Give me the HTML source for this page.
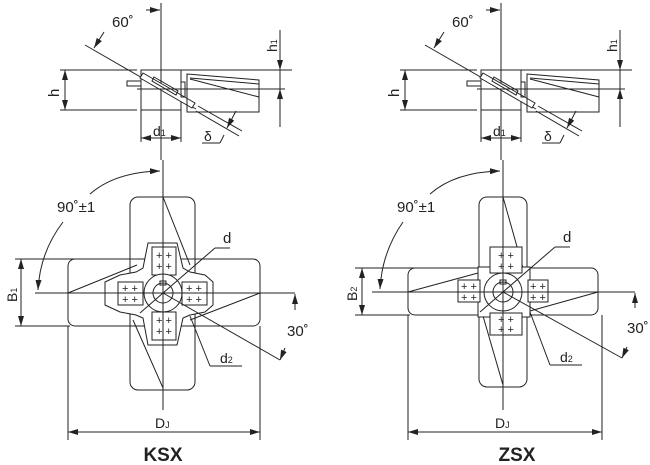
<!DOCTYPE html>
<html><head><meta charset="utf-8"><style>
html,body{margin:0;padding:0;background:#fff;}
svg{display:block;}
text{font-family:"Liberation Sans",sans-serif;fill:#222;}
</style></head><body>
<svg width="650" height="465" viewBox="0 0 650 465" xmlns="http://www.w3.org/2000/svg">
<defs>
<marker id="a" markerWidth="10" markerHeight="6" refX="10" refY="3" orient="auto" markerUnits="userSpaceOnUse">
<path d="M0,0 L10,3 L0,6 z" fill="#222"/></marker>
<g id="top" stroke="#222" stroke-width="1" fill="none">
<line x1="161" y1="3" x2="161" y2="160"/>
<line x1="146" y1="10" x2="160" y2="10" marker-end="url(#a)"/>
<line x1="85" y1="45" x2="196" y2="109"/>
<line x1="198" y1="106" x2="242" y2="131"/>
<line x1="196" y1="111" x2="239" y2="136"/>
<line x1="104" y1="32" x2="94" y2="48" marker-end="url(#a)"/>
<line x1="60" y1="70" x2="137" y2="70"/>
<line x1="60" y1="110" x2="137" y2="110"/>
<line x1="65" y1="80" x2="65" y2="70" marker-end="url(#a)"/>
<line x1="65" y1="100" x2="65" y2="110" marker-end="url(#a)"/>
<line x1="65" y1="80" x2="65" y2="100"/>
<rect x="141" y="70" width="40" height="40"/>
<rect x="127" y="81" width="14" height="5"/>
<path d="M143,73 L195,103 L192,108 L140,78 z" fill="#fff"/>
<path d="M154,77 L178,91 L176,95 L152,81 z"/>
<line x1="181" y1="70" x2="292" y2="70"/>
<path d="M187,74 L259,80 L259,112 L187,112 z"/>
<line x1="190" y1="78" x2="259" y2="84"/>
<line x1="190" y1="79" x2="259" y2="97"/>
<rect x="181" y="82" width="4" height="15"/>
<line x1="137" y1="89" x2="285" y2="89"/>
<line x1="280" y1="30" x2="280" y2="127"/>
<line x1="280" y1="55" x2="280" y2="70" marker-end="url(#a)"/>
<line x1="280" y1="105" x2="280" y2="89" marker-end="url(#a)"/>
<line x1="141" y1="110" x2="141" y2="142"/>
<line x1="181" y1="110" x2="181" y2="142"/>
<line x1="150" y1="138" x2="141" y2="138" marker-end="url(#a)"/>
<line x1="172" y1="138" x2="181" y2="138" marker-end="url(#a)"/>
<line x1="150" y1="138" x2="172" y2="138"/>
<line x1="236" y1="111" x2="227" y2="128" marker-end="url(#a)"/>
<line x1="224" y1="135" x2="220" y2="143"/>
<line x1="220" y1="143" x2="202" y2="143"/>
</g>
<g id="toptext">
<text x="112" y="27" font-size="15">60˚</text>
<text transform="translate(59,97) rotate(-90)" font-size="15">h</text>
<text transform="translate(277,52) rotate(-90)" font-size="14">h<tspan font-size="9">1</tspan></text>
<text x="153" y="136" font-size="14">d<tspan font-size="9">1</tspan></text>
<text x="204" y="141" font-size="14">δ</text>
</g>
</defs>
<use href="#top"/><use href="#toptext"/>
<g transform="translate(340,0)"><use href="#top"/><use href="#toptext"/></g>

<!-- KSX -->
<g stroke="#222" stroke-width="1" fill="none">
<rect x="130" y="197" width="65" height="193" rx="8"/>
<rect x="68" y="259" width="192" height="67" rx="7"/>
<rect x="131" y="260" width="63" height="65" fill="#fff" stroke="none"/>
<line x1="163" y1="197" x2="190" y2="265"/>
<line x1="133" y1="320" x2="163" y2="388"/>
<line x1="68" y1="293" x2="137" y2="265"/>
<line x1="260" y1="293" x2="190" y2="320"/>
<path d="M148,243 L177,243 L183,268 L190,272 L205,275 L213,282 L213,305 L205,312 L190,315 L183,318 L177,345 L148,345 L143,318 L136,315 L120,312 L105,305 L105,282 L120,275 L136,272 L143,268 z" fill="#fff"/>
<rect x="152" y="247" width="24" height="28"/>
<rect x="152" y="312" width="24" height="28"/>
<rect x="118" y="282" width="25" height="23"/>
<rect x="182" y="282" width="25" height="23"/>
<circle cx="163" cy="293" r="19" fill="#fff"/>
<circle cx="163" cy="293" r="10"/>
<rect x="160" y="281" width="6" height="4"/>
<line x1="163" y1="160" x2="163" y2="410"/>
<line x1="35" y1="293" x2="295" y2="293"/>
<line x1="140" y1="313" x2="163" y2="293"/>
<line x1="163" y1="293" x2="215" y2="248"/>
<line x1="215" y1="248" x2="230" y2="248"/>
<line x1="163" y1="293" x2="280" y2="360"/>
<line x1="190" y1="316" x2="210" y2="366"/>
<line x1="210" y1="366" x2="242" y2="366"/>
<line x1="295" y1="310" x2="295" y2="294" marker-end="url(#a)"/>
<line x1="285" y1="348" x2="280" y2="360" marker-end="url(#a)"/>
<line x1="15" y1="259" x2="135" y2="259"/>
<line x1="15" y1="326" x2="70" y2="326"/>
<line x1="21" y1="275" x2="21" y2="259" marker-end="url(#a)"/>
<line x1="21" y1="310" x2="21" y2="326" marker-end="url(#a)"/>
<line x1="21" y1="275" x2="21" y2="310"/>
<line x1="68" y1="326" x2="68" y2="440"/>
<line x1="260" y1="326" x2="260" y2="440"/>
<line x1="90" y1="432" x2="68" y2="432" marker-end="url(#a)"/>
<line x1="240" y1="432" x2="260" y2="432" marker-end="url(#a)"/>
<line x1="90" y1="432" x2="240" y2="432"/>
<path d="M90,194 Q115,172 160,171" marker-end="url(#a)"/>
<path d="M63,222 Q40,252 38,290" marker-end="url(#a)"/>
</g>
<g font-size="11" text-anchor="middle">
<text x="164" y="259">+ +</text><text x="164" y="270">+ +</text>
<text x="164" y="324">+ +</text><text x="164" y="335">+ +</text>
<text x="130" y="292">+ +</text><text x="130" y="303">+ +</text>
<text x="194" y="292">+ +</text><text x="194" y="303">+ +</text>
</g>
<text x="57" y="212" font-size="15">90˚±1</text>
<text x="223" y="243" font-size="15">d</text>
<text x="287" y="336" font-size="15">30˚</text>
<text x="220" y="363" font-size="14">d<tspan font-size="9">2</tspan></text>
<text transform="translate(17,302) rotate(-90)" font-size="14">B<tspan font-size="9">1</tspan></text>
<text x="155" y="428" font-size="14">D<tspan font-size="9">J</tspan></text>
<text x="163" y="461" font-size="19" font-weight="bold" text-anchor="middle">KSX</text>

<!-- ZSX -->
<g stroke="#222" stroke-width="1" fill="none">
<rect x="479" y="197" width="48" height="190" rx="8"/>
<rect x="408" y="268" width="190" height="47" rx="7"/>
<rect x="480" y="269" width="46" height="45" fill="#fff" stroke="none"/>
<line x1="503" y1="197" x2="523" y2="268"/>
<line x1="483" y1="316" x2="503" y2="385"/>
<line x1="408" y1="292" x2="478" y2="273"/>
<line x1="598" y1="292" x2="530" y2="311"/>
<rect x="478" y="267" width="52" height="50" fill="#fff"/>
<rect x="490" y="247" width="32" height="26" fill="#fff"/>
<rect x="490" y="313" width="32" height="22" fill="#fff"/>
<rect x="458" y="280" width="22" height="22" fill="#fff"/>
<rect x="528" y="280" width="20" height="22" fill="#fff"/>
<circle cx="503" cy="292" r="19" fill="#fff"/>
<circle cx="503" cy="292" r="10"/>
<rect x="500" y="280" width="6" height="4"/>
<line x1="503" y1="160" x2="503" y2="410"/>
<line x1="372" y1="292" x2="635" y2="292"/>
<line x1="480" y1="312" x2="503" y2="292"/>
<line x1="503" y1="292" x2="555" y2="247"/>
<line x1="555" y1="247" x2="570" y2="247"/>
<line x1="503" y1="292" x2="622" y2="358"/>
<line x1="530" y1="312" x2="550" y2="365"/>
<line x1="550" y1="365" x2="582" y2="365"/>
<line x1="635" y1="308" x2="635" y2="293" marker-end="url(#a)"/>
<line x1="627" y1="347" x2="622" y2="358" marker-end="url(#a)"/>
<line x1="355" y1="268" x2="470" y2="268"/>
<line x1="355" y1="315" x2="410" y2="315"/>
<line x1="362" y1="282" x2="362" y2="268" marker-end="url(#a)"/>
<line x1="362" y1="301" x2="362" y2="315" marker-end="url(#a)"/>
<line x1="362" y1="282" x2="362" y2="301"/>
<line x1="408" y1="315" x2="408" y2="440"/>
<line x1="602" y1="315" x2="602" y2="440"/>
<line x1="430" y1="432" x2="408" y2="432" marker-end="url(#a)"/>
<line x1="580" y1="432" x2="602" y2="432" marker-end="url(#a)"/>
<line x1="430" y1="432" x2="580" y2="432"/>
<path d="M430,194 Q455,172 500,171" marker-end="url(#a)"/>
<path d="M403,222 Q382,252 380,289" marker-end="url(#a)"/>
</g>
<g font-size="11" text-anchor="middle">
<text x="506" y="259">+ +</text><text x="506" y="270">+ +</text>
<text x="506" y="323">+ +</text><text x="506" y="333">+ +</text>
<text x="469" y="290">+ +</text><text x="469" y="301">+ +</text>
<text x="538" y="290">+ +</text><text x="538" y="301">+ +</text>
</g>
<text x="397" y="212" font-size="15">90˚±1</text>
<text x="563" y="242" font-size="15">d</text>
<text x="627" y="333" font-size="15">30˚</text>
<text x="560" y="362" font-size="14">d<tspan font-size="9">2</tspan></text>
<text transform="translate(357,301) rotate(-90)" font-size="14">B<tspan font-size="9">2</tspan></text>
<text x="495" y="428" font-size="14">D<tspan font-size="9">J</tspan></text>
<text x="517" y="461" font-size="19" font-weight="bold" text-anchor="middle">ZSX</text>
</svg>
</body></html>
